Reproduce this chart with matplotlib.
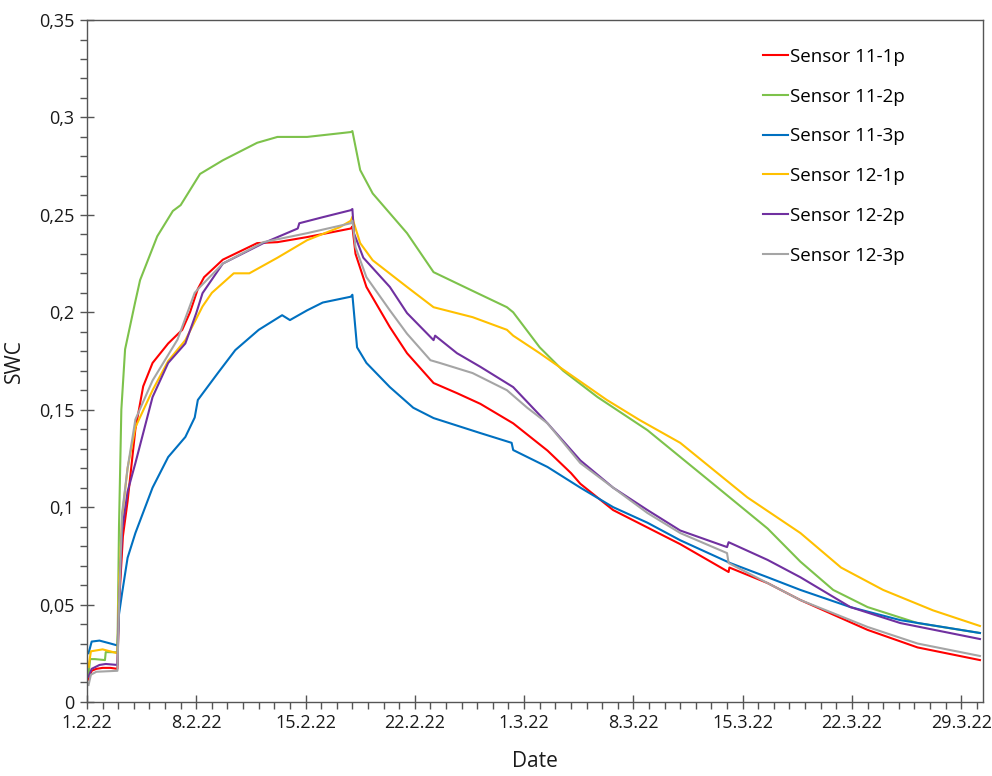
import datetime as dt
import numpy as np
import matplotlib
matplotlib.use("Agg")
import matplotlib.pyplot as plt
from matplotlib.ticker import MultipleLocator, FixedLocator

plt.rcParams['font.family'] = ['Open Sans', 'DejaVu Sans']

# Days since 1.2.22 and soil water content
red_days = [0.1, 0.3, 0.6, 1.0, 1.5, 1.95, 2.05, 2.3, 2.6, 3.1, 3.6, 4.2, 5.2, 6.1, 6.6, 7.1, 7.5, 8.7,
            10.9, 12.2, 14.1, 16.9, 17.0, 17.2, 17.9, 19.4, 20.5, 22.2, 23.7, 25.2, 27.3, 29.5, 31.0,
            31.6, 33.7, 38.0, 39.3, 41.1, 41.15, 43.6, 45.7, 50.0, 53.2, 57.2]
red_swc = [0.0115, 0.016, 0.017, 0.0175, 0.0175, 0.017, 0.05, 0.085, 0.103, 0.14, 0.162, 0.174, 0.184,
           0.191, 0.2, 0.212, 0.218, 0.227, 0.2355, 0.236, 0.2386, 0.243, 0.244, 0.23, 0.213, 0.1924,
           0.179, 0.1637, 0.1585, 0.153, 0.143, 0.129, 0.1175, 0.112, 0.0985, 0.081, 0.075, 0.0667,
           0.069, 0.061, 0.0523, 0.037, 0.028, 0.0215]

green_days = [0.1, 0.2, 0.5, 1.15, 1.2, 1.95, 2.05, 2.2, 2.44, 3.08, 3.4, 4.5, 5.5, 6.0, 7.24, 8.7, 10.9,
              12.2, 14.1, 16.9, 17.0, 17.5, 18.3, 20.5, 22.2, 24.7, 26.9, 27.3, 29.0, 30.5, 32.7, 35.9,
              40.1, 43.6, 45.7, 47.8, 50.0, 53.2, 57.2]
green_swc = [0.014, 0.022, 0.022, 0.0215, 0.0256, 0.0255, 0.09, 0.15, 0.181, 0.205, 0.2165, 0.239, 0.252,
             0.255, 0.271, 0.278, 0.287, 0.29, 0.29, 0.2925, 0.293, 0.273, 0.261, 0.2406, 0.2206, 0.211,
             0.2026, 0.2, 0.182, 0.17, 0.1565, 0.1395, 0.112, 0.089, 0.072, 0.0575, 0.0487, 0.0405, 0.0354]

blue_days = [0.1, 0.3, 0.8, 1.5, 1.95, 2.05, 2.25, 2.6, 3.1, 4.2, 5.2, 6.3, 6.9, 7.1, 8.4, 9.5, 11.0,
             12.5, 13.0, 14.1, 15.1, 16.9, 17.0, 17.3, 17.9, 19.4, 20.9, 22.2, 25.2, 27.2, 27.3, 29.5,
             31.6, 33.7, 35.9, 38.0, 41.2, 43.6, 45.7, 48.9, 52.1, 57.2]
blue_swc = [0.025, 0.031, 0.0315, 0.030, 0.029, 0.045, 0.056, 0.074, 0.0867, 0.11, 0.1257, 0.136, 0.146,
            0.155, 0.169, 0.1806, 0.191, 0.1985, 0.196, 0.201, 0.205, 0.208, 0.209, 0.182, 0.174, 0.1616,
            0.151, 0.1457, 0.138, 0.133, 0.1293, 0.1206, 0.11, 0.1, 0.092, 0.083, 0.0713, 0.064, 0.0575,
            0.0487, 0.042, 0.0354]

orange_days = [0.1, 0.25, 1.0, 1.95, 2.05, 2.25, 2.6, 3.1, 4.2, 5.2, 6.3, 7.4, 8.0, 9.4, 10.4, 12.2, 14.1,
               16.2, 16.9, 17.0, 17.1, 17.5, 18.3, 20.5, 22.2, 24.7, 26.9, 27.3, 29.0, 31.2, 33.3, 35.4,
               38.0, 42.3, 45.7, 48.3, 51.0, 54.2, 57.2]
orange_swc = [0.018, 0.026, 0.027, 0.025, 0.06, 0.095, 0.12, 0.141, 0.16, 0.175, 0.1857, 0.203, 0.21, 0.22,
              0.22, 0.228, 0.237, 0.2437, 0.247, 0.249, 0.2457, 0.2355, 0.2267, 0.213, 0.2026, 0.1975,
              0.191, 0.188, 0.179, 0.1667, 0.155, 0.1447, 0.133, 0.105, 0.0867, 0.069, 0.0575, 0.047,
              0.039]

purple_days = [0.1, 0.3, 0.8, 1.2, 1.95, 2.05, 2.25, 2.6, 3.1, 4.2, 5.2, 6.3, 7.0, 7.4, 8.7, 11.3, 13.5,
               13.6, 15.1, 16.9, 17.0, 17.1, 17.7, 19.4, 20.5, 22.2, 22.3, 23.7, 25.2, 27.3, 29.5, 31.6,
               33.7, 35.9, 38.0, 41.0, 41.1, 43.6, 45.7, 48.9, 52.1, 57.2]
purple_swc = [0.013, 0.017, 0.019, 0.0195, 0.019, 0.05, 0.088, 0.108, 0.1226, 0.1565, 0.174, 0.184, 0.1996,
              0.2098, 0.225, 0.2355, 0.243, 0.2457, 0.2488, 0.2524, 0.253, 0.2406, 0.228, 0.213, 0.1996,
              0.1857, 0.188, 0.179, 0.172, 0.1616, 0.143, 0.124, 0.11, 0.0985, 0.088, 0.0795, 0.082,
              0.0729, 0.064, 0.0487, 0.0405, 0.0323]

gray_days = [0.1, 0.25, 0.6, 1.95, 2.05, 2.25, 2.6, 3.1, 4.2, 5.8, 6.9, 7.24, 8.7, 11.3, 14.1, 16.9, 17.0,
             17.2, 17.9, 19.4, 20.5, 22.0, 22.6, 24.7, 26.9, 28.2, 29.5, 31.6, 33.7, 35.9, 38.0, 41.0,
             41.1, 43.6, 45.7, 50.0, 53.2, 57.2]
gray_swc = [0.0087, 0.014, 0.0155, 0.016, 0.05, 0.097, 0.12, 0.145, 0.165, 0.186, 0.21, 0.213, 0.225,
            0.236, 0.2406, 0.2457, 0.247, 0.2334, 0.218, 0.201, 0.189, 0.1754, 0.174, 0.1688, 0.16, 0.151,
            0.143, 0.1226, 0.11, 0.097, 0.0867, 0.0764, 0.0713, 0.061, 0.0523, 0.0385, 0.03, 0.0236]

labels = ["Sensor 11-1p", "Sensor 11-2p", "Sensor 11-3p", "Sensor 12-1p", "Sensor 12-2p", "Sensor 12-3p"]
colors = ["#FF0000", "#7DC24B", "#0070C0", "#FFC000", "#7030A0", "#A5A5A5"]
series = [(red_days, red_swc), (green_days, green_swc), (blue_days, blue_swc),
          (orange_days, orange_swc), (purple_days, purple_swc), (gray_days, gray_swc)]

start = dt.date(2022, 2, 1)
tick_days = list(range(0, 57, 7))
tick_labels = [(start + dt.timedelta(days=d)).strftime("%-d.%-m.%y") for d in tick_days]

fig = plt.figure(figsize=(9.92, 7.76), dpi=100)
ax = fig.add_axes([0.0877, 0.0954, 0.9033, 0.8788])

for (d, v), lab, c in zip(series, labels, colors):
    ax.plot(d, v, color=c, lw=1.5, label=lab)

ax.set_xlim(0, 57.4)
ax.set_ylim(0, 0.35)
ax.xaxis.set_major_locator(FixedLocator(tick_days))
ax.set_xticklabels(tick_labels)
ax.xaxis.set_minor_locator(MultipleLocator(1))
ax.yaxis.set_minor_locator(MultipleLocator(0.01))
ax.set_yticks(np.arange(0, 0.351, 0.05))
ax.set_yticklabels(["0"] + [f"{v:g}".replace(".", ",") for v in np.arange(0.05, 0.351, 0.05).round(2)])

ax.tick_params(which="major", direction="inout", length=10, width=1, color="#555555",
               labelsize=13, labelcolor="#1a1a1a", pad=4)
ax.tick_params(which="minor", direction="out", length=5, width=1, color="#555555")
for s in ax.spines.values():
    s.set_color("#555555")
    s.set_linewidth(1)

ax.set_xlabel("Date", fontsize=15, color="#1a1a1a", labelpad=13)
ax.set_ylabel("SWC", fontsize=15, color="#1a1a1a", labelpad=10)

ax.legend(loc="upper left", bbox_to_anchor=(0.736, 0.984), frameon=False, fontsize=13.5,
          handlelength=1.3, handletextpad=0.1, labelspacing=1.16)

fig.savefig("out.png", dpi=100)
